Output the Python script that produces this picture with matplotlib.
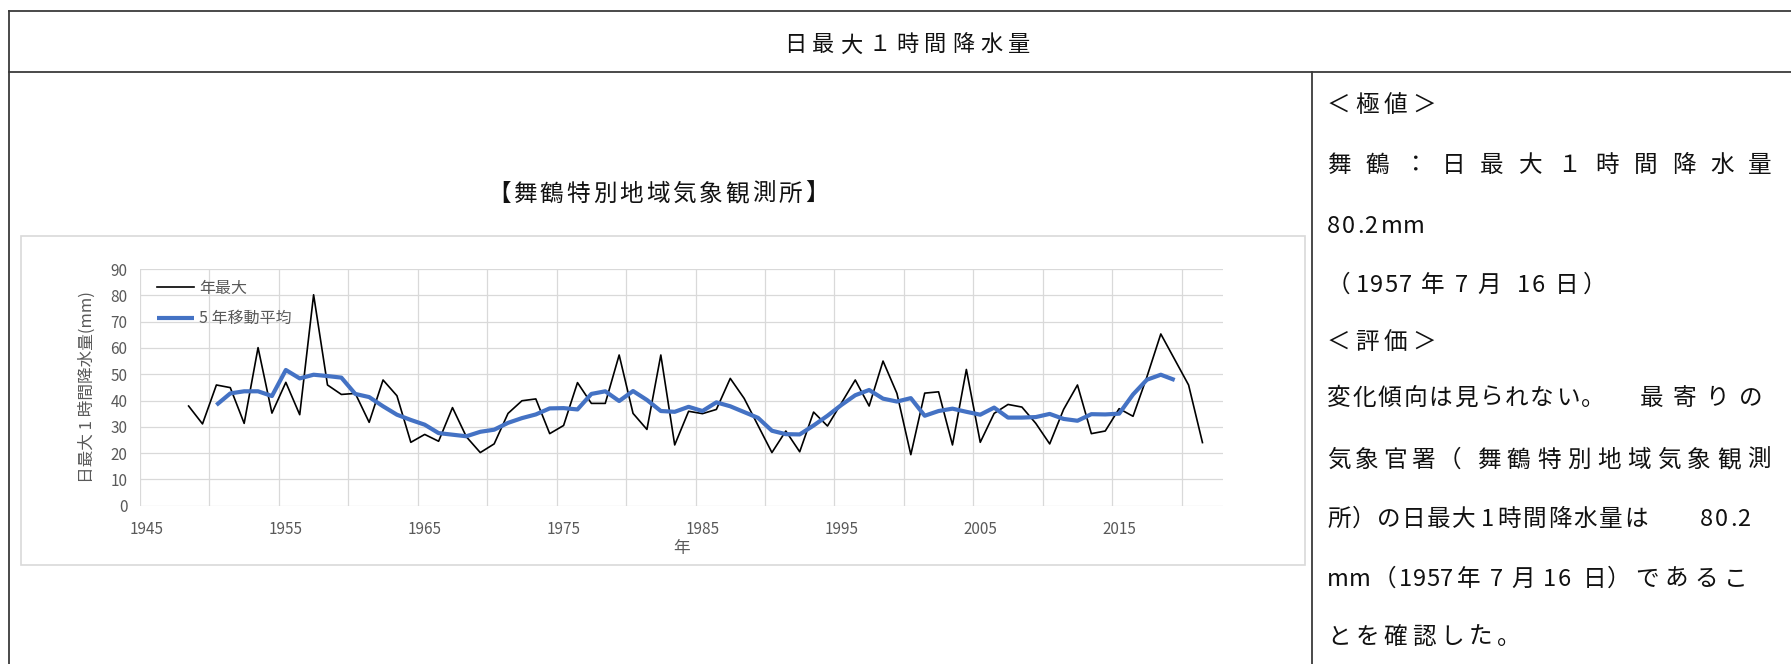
import matplotlib
matplotlib.use("Agg")
import matplotlib.pyplot as plt
from matplotlib.patches import Rectangle

plt.rcParams['font.family'] = ['Noto Sans CJK JP', 'DejaVu Sans']

# ---------- data ----------
years = list(range(1948, 2022))
annual_max = [
    37.9, 31.1, 45.9, 44.9, 31.3, 60.1, 35.2, 46.9, 34.6, 80.2,   # 1948-1957
    45.9, 42.3, 42.7, 31.7, 47.8, 41.8, 24.1, 27.1, 24.5, 37.3,   # 1958-1967
    26.2, 20.2, 23.5, 35.1, 39.9, 40.6, 27.4, 30.5, 46.8, 38.9,   # 1968-1977
    38.9, 57.3, 35.1, 29.0, 57.3, 23.1, 35.9, 35.0, 36.6, 48.4,   # 1978-1987
    40.8, 30.5, 20.2, 28.4, 20.5, 35.6, 30.3, 39.0, 47.8, 37.9,   # 1988-1997
    55.0, 42.7, 19.4, 42.8, 43.3, 23.1, 51.8, 24.1, 35.1, 38.5,   # 1998-2007
    37.5, 31.3, 23.5, 36.6, 45.9, 27.4, 28.4, 36.9, 34.0, 49.0,   # 2008-2017
    65.3, 55.6, 45.9, 24.0,                                       # 2018-2021
]
ma_years = list(range(1950, 2020))
ma5 = [
    38.3, 42.7, 43.5, 43.5, 41.7, 51.6, 48.4, 49.8, 49.3, 48.7,   # 1950s
    42.5, 41.3, 37.8, 34.6, 32.6, 30.8, 27.6, 27.0, 26.4, 28.1,   # 1960s
    28.9, 31.5, 33.3, 34.7, 37.0, 37.1, 36.6, 42.5, 43.5, 39.8,   # 1970s
    43.6, 40.2, 36.0, 35.7, 37.6, 36.0, 39.3, 37.8, 35.6, 33.4,   # 1980s
    28.5, 27.2, 27.1, 30.5, 34.2, 38.3, 42.0, 44.0, 40.7, 39.6,   # 1990s
    40.9, 34.2, 36.0, 36.9, 35.7, 34.6, 37.3, 33.5, 33.5, 33.7,   # 2000s
    34.9, 33.0, 32.3, 34.8, 34.7, 35.0, 42.3, 47.9, 49.8, 47.8,   # 2010s
]
xtick_years = [1945, 1955, 1965, 1975, 1985, 1995, 2005, 2015]
grid_years = [1944.5 + 5 * k for k in range(16)]
yticks = list(range(0, 91, 10))

W, H = 1791, 664
fig = plt.figure(figsize=(W / 100, H / 100), dpi=100)

# ---------- page / table layer in pixel coords ----------
bg = fig.add_axes([0, 0, 1, 1])
bg.set_xlim(0, W)
bg.set_ylim(H, 0)
bg.axis("off")

LINE = "#3a3a3a"
bg.plot([8.5, W], [10.7, 10.7], color=LINE, lw=1.3, clip_on=False)
bg.plot([8.5, W], [71.5, 71.5], color=LINE, lw=1.3, clip_on=False)
bg.plot([8.5, 8.5], [10.7, H], color=LINE, lw=1.3, clip_on=False)
bg.plot([1312, 1312], [71.5, H], color=LINE, lw=1.3, clip_on=False)

# chart frame
bg.add_patch(Rectangle((21, 236), 1284, 329, fill=False, ec="#d9d9d9", lw=1.2))


def put_chars(x, yc, s, pitch, size):
    base = yc + 0.38 * size * 100 / 72
    for i, ch in enumerate(s):
        bg.text(x + i * pitch, base, ch, fontsize=size, ha="left",
                va="baseline", color="#111111")


# top title and station title
put_chars(784, 43, "日最大１時間降水量", 28, 16)
put_chars(487, 192, "【舞鶴特別地域気象観測所】", 26.5, 17)

# right column text
TS = 17
rows = [
    (103, [(1327, 28.3, "＜極値＞")]),
    (163, [(1327, 38.3, "舞鶴：日最大１時間降水量")]),
    (224, [(1327, 15, "80"), (1357, 7, "."), (1364, 15, "2"), (1381, 22, "mm")]),
    (283, [(1327, 28.3, "（"), (1356, 14.2, "1957"), (1421, 28.3, "年"),
           (1455, 14.2, "7"), (1477, 28.3, "月"), (1517, 14.2, "16"),
           (1555, 28.3, "日）")]),
    (340, [(1327, 28.3, "＜評価＞")]),
    (396, [(1327, 25.4, "変化傾向は見られない。"), (1640, 33, "最寄りの")]),
    (458, [(1327, 28, "気象官署"), (1438, 30, "（"),
           (1477, 30, "舞鶴特別地域気象観測")]),
    (517, [(1327, 25, "所）の日最大"), (1481, 25, "1"),
           (1497, 25.5, "時間降水量は"), (1700, 15, "80"), (1730, 7, "."),
           (1737, 15, "2")]),
    (577, [(1327, 22, "mm"), (1373, 28, "（"), (1399, 13.5, "1957"),
           (1457, 28, "年"), (1490, 14, "7"), (1511, 28, "月"),
           (1543, 15, "16"), (1583, 28, "日"), (1607, 28, "）"),
           (1635, 29.5, "であるこ")]),
    (635, [(1327, 28.3, "とを確認した。")]),
]
for yc, segs in rows:
    for x0, p, s in segs:
        put_chars(x0, yc, s, p, TS)

# ---------- chart ----------
left, right, top, bottom = 140, 1223.3, 269, 505.7
ax = fig.add_axes([left / W, (H - bottom) / H, (right - left) / W, (bottom - top) / H])
ax.set_facecolor("none")

GRAY = "#595959"
GRID = "#d9d9d9"

ax.plot(years, annual_max, color="black", lw=1.2, label="年最大", zorder=3)
ax.plot(ma_years, ma5, color="#4472C4", lw=3.0, label="5 年移動平均",
        solid_capstyle="butt", zorder=4)

ax.set_xlim(1944.5, 2022.5)
ax.set_ylim(0, 90)
ax.set_xticks(xtick_years)
ax.set_xticks(grid_years, minor=True)
ax.set_yticks(yticks)
ax.grid(False)
ax.xaxis.grid(True, which="minor", color=GRID, lw=0.9)
ax.yaxis.grid(True, which="major", color=GRID, lw=0.9)
ax.set_axisbelow(True)
for sp in ax.spines.values():
    sp.set_visible(False)
ax.tick_params(axis="both", which="both", length=0, labelcolor=GRAY, labelsize=11)
ax.tick_params(axis="x", pad=11)
ax.tick_params(axis="y", pad=9)

ax.set_xlabel("年", color=GRAY, fontsize=12, va="center")
ax.xaxis.set_label_coords(0.5, -0.179)
ax.set_ylabel("日最大 1 時間降水量(mm)", color=GRAY, fontsize=12, va="center")
ax.yaxis.set_label_coords(-0.049, 0.5)

leg = ax.legend(loc="upper left", bbox_to_anchor=(0.0157, 0.955), frameon=False,
                borderpad=0, borderaxespad=0, handlelength=2.3, handletextpad=0.35,
                labelspacing=0.85, fontsize=11.5, labelcolor=GRAY)

fig.savefig("out.png", dpi=100)
